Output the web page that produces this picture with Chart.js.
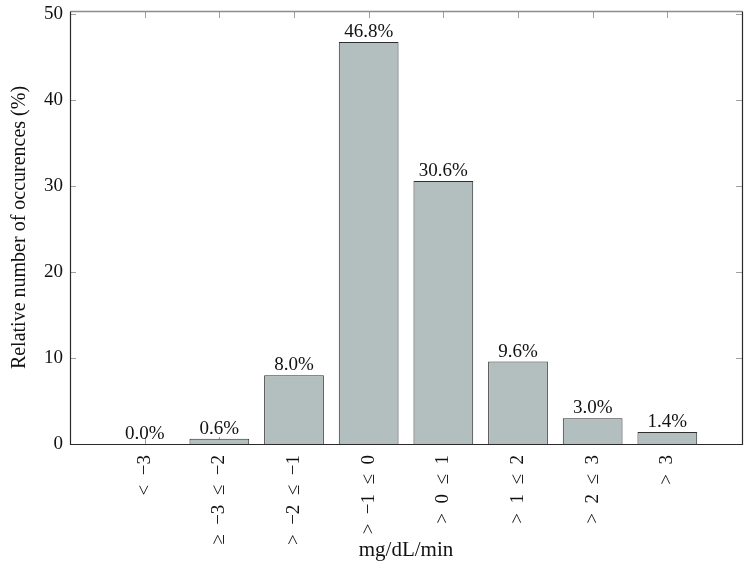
<!DOCTYPE html>
<html>
<head>
<meta charset="utf-8">
<script src="https://cdn.jsdelivr.net/npm/chart.js@4/dist/chart.umd.min.js"></script>
<style>
  html, body { margin: 0; padding: 0; background: #fff; }
  #wrap { width: 753px; height: 570px; }
</style>
</head>
<body>
<div id="wrap"><canvas id="chart" width="753" height="570"></canvas></div>
<script>
// rate of change bins (mg/dL/min) and their share of occurences
const categories = ['<\u2002−3', '≥\u2002−3\u2002≤\u2002−2', '>\u2002−2\u2002≤\u2002−1', '>\u2002−1\u2002≤\u20020',
    '>\u20020\u2002≤\u20021', '>\u20021\u2002≤\u20022', '>\u20022\u2002≤\u20023', '>\u20023']
const shares = [0.0, 0.6, 8.0, 46.8, 30.6, 9.6, 3.0, 1.4]
const yTicks = [0, 10, 20, 30, 40, 50]

const serif = '"Liberation Serif", "DejaVu Serif", serif'
const barFill = '#b3bfbe'
const barEdge = '#2e2e2e'

// bar values drawn above each bar
const valueLabels = {
    id: 'valueLabels',
    afterDatasetsDraw(chart) {
        const ctx = chart.ctx
        const meta = chart.getDatasetMeta(0)
        ctx.save()
        ctx.font = '19px ' + serif
        ctx.fillStyle = '#111'
        ctx.textAlign = 'center'
        ctx.textBaseline = 'alphabetic'
        meta.data.forEach(function(bar, i) {
            ctx.fillText(shares[i].toFixed(1) + '%', bar.x, bar.y - 5)
        })
        ctx.restore()
    }
}

// pgfplots-like frame with small inner ticks
const frameTicks = {
    id: 'frameTicks',
    beforeDatasetsDraw(chart) {
        const ctx = chart.ctx
        const a = chart.chartArea
        const xs = chart.scales.x
        const ys = chart.scales.y
        ctx.save()
        ctx.strokeStyle = '#a0a0a0'
        ctx.lineWidth = 1
        ctx.beginPath()
        categories.forEach(function(c, i) {
            const px = Math.round(xs.getPixelForValue(i)) + 0.5
            ctx.moveTo(px, a.bottom)
            ctx.lineTo(px, a.bottom - 7)
            ctx.moveTo(px, a.top)
            ctx.lineTo(px, a.top + 7)
        })
        yTicks.forEach(function(v) {
            const py = Math.round(ys.getPixelForValue(v)) + 0.5
            ctx.moveTo(a.left, py)
            ctx.lineTo(a.left + 6, py)
            ctx.moveTo(a.right, py)
            ctx.lineTo(a.right - 6, py)
        })
        ctx.stroke()
        ctx.restore()
    },
    afterDraw(chart) {
        const ctx = chart.ctx
        const a = chart.chartArea
        const l = Math.round(a.left) + 0.5
        const r = Math.round(a.right) + 0.5
        const t = Math.round(a.top) + 0.5
        const b = Math.round(a.bottom) + 0.5
        ctx.save()
        ctx.lineWidth = 1.5
        ctx.strokeStyle = '#8c8c8c'
        ctx.beginPath()
        ctx.moveTo(l, t)
        ctx.lineTo(r, t)
        ctx.stroke()
        ctx.lineWidth = 1.2
        ctx.strokeStyle = '#2a2a2a'
        ctx.beginPath()
        ctx.moveTo(l, t)
        ctx.lineTo(l, b)
        ctx.lineTo(r, b)
        ctx.lineTo(r, t)
        ctx.stroke()
        ctx.restore()
    }
}

const points = shares.map(function(v, i) { return {x: i, y: v} })

const chart = new Chart(document.getElementById('chart'), {
    type: 'bar',
    data: {
        datasets: [{
            data: points,
            backgroundColor: barFill,
            borderColor: barEdge,
            borderWidth: 1,
            barPercentage: 0.8,
            categoryPercentage: 1.0
        }]
    },
    options: {
        responsive: false,
        animation: false,
        layout: { padding: { top: 0, right: 11, bottom: 6, left: 0 } },
        plugins: {
            legend: { display: false },
            tooltip: { enabled: false }
        },
        scales: {
            x: {
                type: 'linear',
                offset: false,
                min: -1,
                max: 8,
                grid: { display: false, drawTicks: false },
                border: { display: false },
                afterBuildTicks: function(scale) {
                    scale.ticks = categories.map(function(c, i) { return {value: i} })
                },
                afterFit: function(scale) { scale.height = 120 },
                ticks: {
                    autoSkip: false,
                    minRotation: 90,
                    maxRotation: 90,
                    padding: 11,
                    color: '#111',
                    font: { family: serif, size: 19 },
                    callback: function(v) { return categories[v] }
                },
                title: {
                    display: true,
                    text: 'mg/dL/min',
                    color: '#111',
                    font: { family: serif, size: 21 },
                    padding: { top: 0, bottom: 1 }
                }
            },
            y: {
                min: 0,
                max: 50.4,
                grid: { display: false, drawTicks: false },
                border: { display: false },
                afterBuildTicks: function(scale) {
                    scale.ticks = yTicks.map(function(v) { return {value: v} })
                },
                afterFit: function(scale) {
                    scale.width = 70
                    scale.paddingTop = 11
                    scale.paddingBottom = 0
                },
                ticks: {
                    padding: 7,
                    color: '#111',
                    font: { family: serif, size: 19 }
                },
                title: {
                    display: true,
                    text: 'Relative number of occurences (%)',
                    color: '#111',
                    font: { family: serif, size: 20 },
                    padding: { top: 8, bottom: 0 }
                }
            }
        }
    },
    plugins: [frameTicks, valueLabels]
})
</script>
</body>
</html>
